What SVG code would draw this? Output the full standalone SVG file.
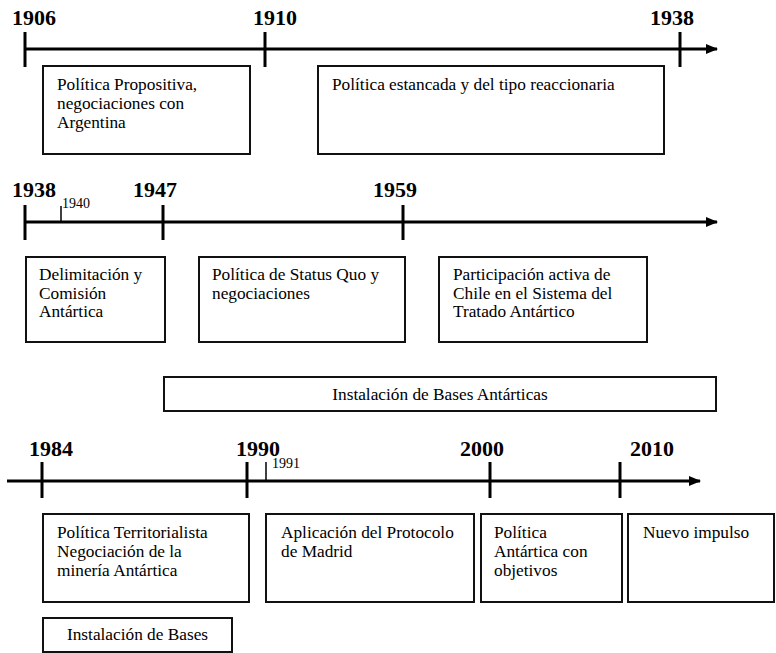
<svg xmlns="http://www.w3.org/2000/svg" width="776" height="653" viewBox="0 0 776 653">
  <style>
    .axis { stroke: #000; stroke-width: 3; fill: none; }
    .tick { stroke: #000; stroke-width: 3; }
    .minor { stroke: #000; stroke-width: 1.5; }
    .box { fill: #fff; stroke: #111; stroke-width: 2; }
    .year { font-family: "Liberation Serif", "Times New Roman", serif; font-weight: bold; font-size: 22px; fill: #000; }
    .small { font-family: "Liberation Serif", "Times New Roman", serif; font-size: 14px; fill: #000; }
    .txt { font-family: "Liberation Serif", "Times New Roman", serif; font-size: 17.3px; fill: #000; }
  </style>
  <defs>
    <marker id="arrow" viewBox="0 0 12 10" refX="11" refY="5" markerWidth="12" markerHeight="10" markerUnits="userSpaceOnUse" orient="auto">
      <path d="M0,0 L12,5 L0,10 Z" fill="#000"/>
    </marker>
  </defs>
  <rect width="776" height="653" fill="#fff"/>

  <!-- timeline axes with their ticks -->
  <g id="connectors">
    <line class="axis" x1="25" y1="49" x2="717" y2="49" marker-end="url(#arrow)"/>
    <line class="tick" x1="25" y1="32" x2="25" y2="67"/>
    <line class="tick" x1="265" y1="32" x2="265" y2="67"/>
    <line class="tick" x1="680" y1="32" x2="680" y2="67"/>

    <line class="axis" x1="25" y1="222" x2="717" y2="222" marker-end="url(#arrow)"/>
    <line class="tick" x1="25" y1="205" x2="25" y2="240"/>
    <line class="tick" x1="163" y1="205" x2="163" y2="240"/>
    <line class="tick" x1="403" y1="205" x2="403" y2="240"/>
    <line class="minor" x1="61" y1="206" x2="61" y2="222"/>

    <line class="axis" x1="7" y1="481" x2="700" y2="481" marker-end="url(#arrow)"/>
    <line class="tick" x1="42" y1="462" x2="42" y2="498"/>
    <line class="tick" x1="247" y1="462" x2="247" y2="498"/>
    <line class="tick" x1="490" y1="462" x2="490" y2="498"/>
    <line class="tick" x1="620" y1="462" x2="620" y2="498"/>
    <line class="minor" x1="266" y1="462" x2="266" y2="481"/>
  </g>

  <!-- year labels -->
  <g id="years">
    <text class="year" x="12" y="25">1906</text>
    <text class="year" x="253" y="25">1910</text>
    <text class="year" x="650" y="25">1938</text>
    <text class="year" x="12" y="197">1938</text>
    <text class="small" x="62" y="208">1940</text>
    <text class="year" x="133" y="197">1947</text>
    <text class="year" x="373" y="197">1959</text>
    <text class="year" x="29" y="456">1984</text>
    <text class="year" x="236" y="456">1990</text>
    <text class="small" x="272" y="468">1991</text>
    <text class="year" x="460" y="456">2000</text>
    <text class="year" x="630" y="456">2010</text>
  </g>

  <!-- period boxes -->
  <g id="n1906">
    <rect class="box" x="43" y="66" width="207" height="88"/>
    <text class="txt" x="57" y="90">Política Propositiva,</text>
    <text class="txt" x="57" y="109">negociaciones con</text>
    <text class="txt" x="57" y="128">Argentina</text>
  </g>
  <g id="n1910">
    <rect class="box" x="318" y="66" width="346" height="88"/>
    <text class="txt" x="332" y="90">Política estancada y del tipo reaccionaria</text>
  </g>

  <g id="n1938">
    <rect class="box" x="26" y="257" width="139" height="85"/>
    <text class="txt" x="39" y="280">Delimitación y</text>
    <text class="txt" x="39" y="298.5">Comisión</text>
    <text class="txt" x="39" y="317">Antártica</text>
  </g>
  <g id="n1947">
    <rect class="box" x="199" y="257" width="206" height="85"/>
    <text class="txt" x="212" y="280">Política de Status Quo y</text>
    <text class="txt" x="212" y="298.5">negociaciones</text>
  </g>
  <g id="n1959">
    <rect class="box" x="439" y="257" width="208" height="85"/>
    <text class="txt" x="453" y="280">Participación activa de</text>
    <text class="txt" x="453" y="298.5">Chile en el Sistema del</text>
    <text class="txt" x="453" y="317">Tratado Antártico</text>
  </g>
  <g id="nBasesAntarticas">
    <rect class="box" x="164" y="377" width="552" height="34"/>
    <text class="txt" x="440" y="400" text-anchor="middle">Instalación de Bases Antárticas</text>
  </g>

  <g id="n1984">
    <rect class="box" x="43" y="514" width="206" height="88"/>
    <text class="txt" x="57" y="538">Política Territorialista</text>
    <text class="txt" x="57" y="557">Negociación de la</text>
    <text class="txt" x="57" y="576">minería Antártica</text>
  </g>
  <g id="n1991">
    <rect class="box" x="266" y="514" width="208" height="88"/>
    <text class="txt" x="281" y="538">Aplicación del Protocolo</text>
    <text class="txt" x="281" y="557">de Madrid</text>
  </g>
  <g id="n2000">
    <rect class="box" x="481" y="514" width="141" height="88"/>
    <text class="txt" x="494" y="538">Política</text>
    <text class="txt" x="494" y="557">Antártica con</text>
    <text class="txt" x="494" y="576">objetivos</text>
  </g>
  <g id="n2010">
    <rect class="box" x="628" y="514" width="146" height="88"/>
    <text class="txt" x="643" y="538">Nuevo impulso</text>
  </g>
  <g id="nBases">
    <rect class="box" x="43" y="618" width="189" height="34"/>
    <text class="txt" x="137.5" y="640" text-anchor="middle">Instalación de Bases</text>
  </g>
</svg>
